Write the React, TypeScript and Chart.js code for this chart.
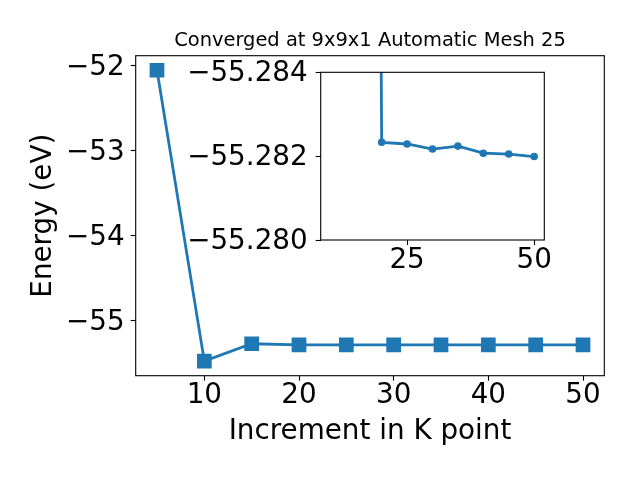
import { useEffect, useRef } from 'react';
import { Chart, registerables } from 'chart.js';

Chart.register(...registerables);

// ---- data ----
const kPoints = [5, 10, 15, 20, 25, 30, 35, 40, 45, 50];
const energies = [-52.05, -55.473, -55.268, -55.28233, -55.28229, -55.28217, -55.28224, -55.28207, -55.28205, -55.28199];
const insetK = [10, 20, 25, 30, 35, 40, 45, 50];

const mainXTicks = [10, 20, 30, 40, 50];
const mainYTicks = [-55, -54, -53, -52];
const insetXTicks = [25, 50];
const insetYTicks = [-55.284, -55.282, -55.28];

const titleText = 'Converged at 9x9x1 Automatic Mesh 25';
const xLabel = 'Increment in K point';
const yLabel = 'Energy (eV)';

const FONT = 'DejaVu Sans';
const BLUE = '#1f77b4';

const minus = (v: number, digits?: number) => {
  const s = digits === undefined ? String(Math.abs(v)) : Math.abs(v).toFixed(digits);
  return (v < 0 ? '\u2212' : '') + s;
};

const framePlugin = {
  id: 'frame',
  afterDatasetsDraw(chart: any) {
    const { ctx, chartArea: a } = chart;
    ctx.save();
    ctx.strokeStyle = '#000';
    ctx.lineWidth = 1.1;
    ctx.strokeRect(a.left, a.top, a.right - a.left, a.bottom - a.top);
    ctx.restore();
  },
};

const whiteBgPlugin = {
  id: 'whiteBg',
  beforeDraw(chart: any) {
    const { ctx, chartArea: a } = chart;
    if (!a) return;
    ctx.save();
    ctx.fillStyle = '#fff';
    ctx.fillRect(a.left, a.top, a.right - a.left, a.bottom - a.top);
    ctx.restore();
  },
};

const fixSize = (size: number, horizontal: boolean) => (scale: any) => {
  if (horizontal) scale.height = size;
  else scale.width = size;
  scale.paddingLeft = 0;
  scale.paddingRight = 0;
  scale.paddingTop = 0;
  scale.paddingBottom = 0;
};

const setTicks = (values: number[]) => (scale: any) => {
  scale.ticks = values.map((v) => ({ value: v }));
};

const tickGrid = {
  display: true,
  drawOnChartArea: false,
  drawTicks: true,
  tickLength: 5,
  tickWidth: 1.1,
  tickColor: '#000',
};

export default function App() {
  const mainRef = useRef<HTMLCanvasElement>(null);
  const insetRef = useRef<HTMLCanvasElement>(null);

  useEffect(() => {
    if (!mainRef.current || !insetRef.current) return;

    const mainData = kPoints.map((k, i) => ({ x: k, y: energies[i] }));
    const insetData = insetK.map((k) => ({ x: k, y: energies[kPoints.indexOf(k)] }));

    const main = new Chart(mainRef.current, {
      type: 'line',
      data: {
        datasets: [
          {
            data: mainData,
            borderColor: BLUE,
            backgroundColor: BLUE,
            borderWidth: 2.8,
            tension: 0,
            pointStyle: 'rect',
            pointRadius: 10.4,
            pointBorderWidth: 0,
            pointBackgroundColor: BLUE,
            fill: false,
          },
        ],
      },
      options: {
        animation: false,
        responsive: false,
        devicePixelRatio: 1,
        layout: { padding: { left: 0, top: 0, right: 35.7, bottom: 0 } },
        plugins: {
          legend: { display: false },
          tooltip: { enabled: false },
          title: {
            display: true,
            text: titleText,
            fullSize: false,
            color: '#000',
            font: { family: FONT, size: 19.44, lineHeight: 1.2, weight: 'normal' },
            padding: { top: 29.5, bottom: 2.87 },
          },
        },
        scales: {
          x: {
            type: 'linear',
            min: 2.75,
            max: 52.25,
            grid: tickGrid,
            border: { display: false },
            afterBuildTicks: setTicks(mainXTicks),
            afterFit: fixSize(104.3, true),
            ticks: {
              autoSkip: false,
              maxRotation: 0,
              padding: 1.5,
              color: '#000',
              font: { family: FONT, size: 27.8, lineHeight: 1 },
              callback: (v: any) => String(v),
            },
            title: {
              display: true,
              text: xLabel,
              color: '#000',
              font: { family: FONT, size: 27.8, lineHeight: 1 },
              padding: { top: 0, bottom: 34.2 },
            },
          },
          y: {
            type: 'linear',
            min: -55.644,
            max: -51.879,
            grid: tickGrid,
            border: { display: false },
            afterBuildTicks: setTicks(mainYTicks),
            afterFit: fixSize(135.7, false),
            ticks: {
              autoSkip: false,
              padding: 6,
              labelOffset: 1.5,
              color: '#000',
              font: { family: FONT, size: 27.8, lineHeight: 1 },
              callback: (v: any) => minus(Number(v)),
            },
            title: {
              display: true,
              text: yLabel,
              color: '#000',
              font: { family: FONT, size: 27.8, lineHeight: 1 },
              padding: { top: 29.8, bottom: 0 },
            },
          },
        },
      },
      plugins: [framePlugin],
    } as any);

    const inset = new Chart(insetRef.current, {
      type: 'line',
      data: {
        datasets: [
          {
            data: insetData,
            borderColor: BLUE,
            backgroundColor: BLUE,
            borderWidth: 2.8,
            tension: 0,
            pointStyle: 'circle',
            pointRadius: 3.8,
            pointBorderWidth: 0,
            pointBackgroundColor: BLUE,
            fill: false,
          },
        ],
      },
      options: {
        animation: false,
        responsive: false,
        devicePixelRatio: 1,
        layout: { padding: { left: 170.7, top: 72.3, right: 95.7, bottom: 180 } },
        plugins: {
          legend: { display: false },
          tooltip: { enabled: false },
          title: { display: false },
        },
        scales: {
          x: {
            type: 'linear',
            min: 8,
            max: 52,
            grid: tickGrid,
            border: { display: false },
            afterBuildTicks: setTicks(insetXTicks),
            afterFit: fixSize(60, true),
            ticks: {
              autoSkip: false,
              maxRotation: 0,
              padding: 1.5,
              color: '#000',
              font: { family: FONT, size: 27.8, lineHeight: 1 },
              callback: (v: any) => String(v),
            },
          },
          y: {
            type: 'linear',
            reverse: true,
            min: -55.284,
            max: -55.28,
            grid: tickGrid,
            border: { display: false },
            afterBuildTicks: setTicks(insetYTicks),
            afterFit: fixSize(150, false),
            ticks: {
              autoSkip: false,
              padding: 8,
              labelOffset: 1.5,
              color: '#000',
              font: { family: FONT, size: 27.8, lineHeight: 1 },
              callback: (v: any) => minus(Number(v), 3),
            },
          },
        },
      },
      plugins: [whiteBgPlugin, framePlugin],
    } as any);

    return () => {
      main.destroy();
      inset.destroy();
    };
  }, []);

  return (
    <div style={{ position: 'fixed', left: 0, top: 0, width: 640, height: 480, background: '#fff' }}>
      <canvas
        ref={mainRef}
        width={640}
        height={480}
        style={{ position: 'absolute', left: 0, top: 0, width: 640, height: 480 }}
      />
      <canvas
        ref={insetRef}
        width={640}
        height={480}
        style={{ position: 'absolute', left: 0, top: 0, width: 640, height: 480 }}
      />
    </div>
  );
}
